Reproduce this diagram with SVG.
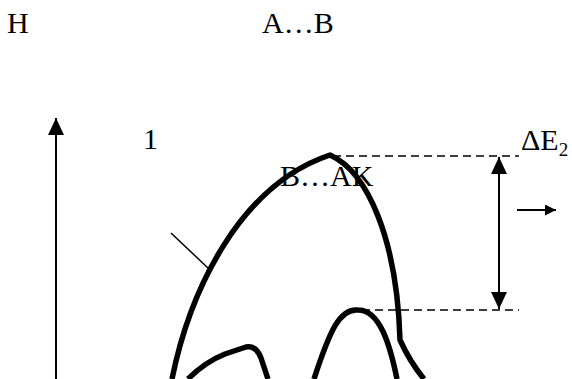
<svg xmlns="http://www.w3.org/2000/svg" width="572" height="379" viewBox="0 0 572 379">
<style>
text{font-family:"Liberation Serif","Times New Roman",serif;fill:#000}
.lbl{font-size:30px}
.thick{fill:none;stroke:#000;stroke-width:5.5;stroke-linejoin:round;stroke-linecap:butt}
.thin{fill:none;stroke:#000;stroke-width:2}
.dash{fill:none;stroke:#000;stroke-width:1.5;stroke-dasharray:8 5}
</style>
<defs>
<marker id="ah" viewBox="0 0 17 16" refX="17" refY="8" markerWidth="17" markerHeight="16" markerUnits="userSpaceOnUse" orient="auto-start-reverse">
<path d="M0,0 L17,8 L0,16 Z" fill="#000"/>
</marker>
<marker id="ahs" viewBox="0 0 11 11" refX="11" refY="5.5" markerWidth="11" markerHeight="11" markerUnits="userSpaceOnUse" orient="auto">
<path d="M0,0 L11,5.5 L0,11 Z" fill="#000"/>
</marker>
</defs>
<g id="labels">
<text class="lbl" x="7" y="33">H</text>
<text class="lbl" x="262" y="33">A…B</text>
<text class="lbl" x="143" y="149">1</text>
<text class="lbl" x="280" y="186">B…AK</text>
<text class="lbl" x="521" y="150">ΔE<tspan font-size="19" dy="6">2</tspan></text>
</g>
<g id="axis">
<line class="thin" x1="56" y1="379" x2="56" y2="118" marker-end="url(#ah)"/>
</g>
<g id="curves">
<path class="thick" d="M172,379 C190,290 240,185 330,155 C368,172 397,240 400,340 Q410,362 424,379"/>
<path class="thick" d="M188,379 Q205,362 225,354 L246,347 Q256,345 261,358 L268,379"/>
<path class="thick" d="M314,379 C330,330 340,308 358,310 C380,310 390,345 397,379"/>
</g>
<g id="connectors">
<line x1="171" y1="233" x2="208" y2="268" stroke="#000" stroke-width="1.5"/>
<line class="dash" x1="333" y1="156" x2="519" y2="156"/>
<line class="dash" x1="362" y1="310" x2="519" y2="310"/>
<line class="thin" x1="499" y1="157" x2="499" y2="309" marker-start="url(#ah)" marker-end="url(#ah)"/>
<line class="thin" x1="517" y1="210" x2="556" y2="210" marker-end="url(#ahs)"/>
</g>
</svg>
